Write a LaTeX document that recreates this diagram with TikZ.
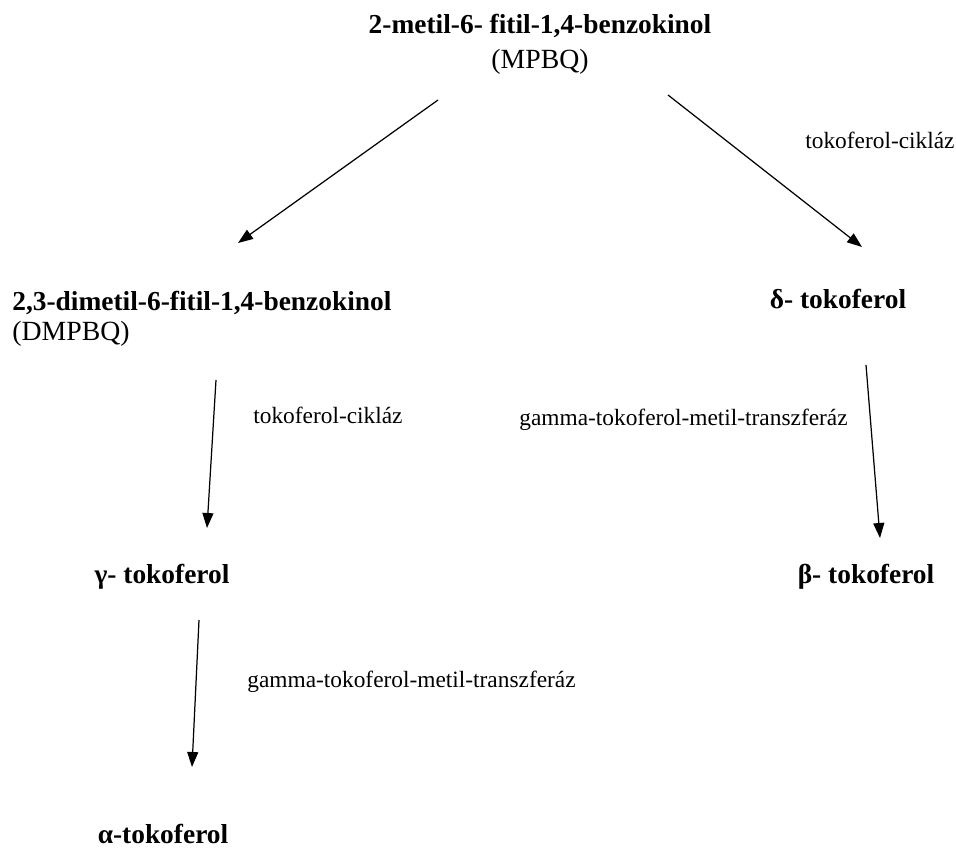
\documentclass[tikz,border=0pt]{standalone}
\usepackage{fontspec}
\setmainfont{Liberation Serif}
\usetikzlibrary{arrows.meta, positioning}

\tikzset{
  compound/.style={font=\fontsize{15.6}{18}\selectfont\bfseries, inner sep=0pt},
  abbrev/.style={font=\fontsize{15.8}{18}\selectfont, inner sep=0pt},
  enzyme/.style={font=\fontsize{13.3}{16}\selectfont, inner sep=0pt},
  pathway/.style={-{Triangle[length=0.3cm, width=0.22cm]}, line width=0.7pt},
}

\begin{document}
\begin{tikzpicture}[x=0.02cm, y=-0.02cm]
  \useasboundingbox (0,0) rectangle (956,848);

  % Compounds
  \node[compound, anchor=base] (mpbq) at (540,34) {2-metil-6- fitil-1,4-benzokinol};
  \node[abbrev, anchor=base] (mpbqab) at (540,69) {(MPBQ)};
  \node[compound, anchor=base west] (dmpbq) at (12,310) {2,3-dimetil-6-fitil-1,4-benzokinol};
  \node[abbrev, anchor=base west] (dmpbqab) at (12,340) {(DMPBQ)};
  \node[compound, anchor=base] (delta) at (838,308) {δ- tokoferol};
  \node[compound, anchor=base] (gamma) at (162,583) {γ- tokoferol};
  \node[compound, anchor=base] (beta) at (866,583) {β- tokoferol};
  \node[compound, anchor=base] (alpha) at (163,843) {α-tokoferol};

  % Enzymes
  \node[enzyme, anchor=base west] (cyc1) at (805,148) {tokoferol-cikláz};
  \node[enzyme, anchor=base west] (cyc2) at (253,423) {tokoferol-cikláz};
  \node[enzyme, anchor=base west] (gtmt1) at (519,425) {gamma-tokoferol-metil-transzferáz};
  \node[enzyme, anchor=base west] (gtmt2) at (247,687) {gamma-tokoferol-metil-transzferáz};

  % Arrow ends
  \coordinate (mpbqL) at (438,100);
  \coordinate (mpbqR) at (668,95);
  \coordinate (dmpbqT) at (238,243);
  \coordinate (deltaT) at (862,247);
  \coordinate (dmpbqB) at (216,380);
  \coordinate (gammaT) at (207,528);
  \coordinate (deltaB) at (866,365);
  \coordinate (betaT) at (880,538);
  \coordinate (gammaB) at (199,620);
  \coordinate (alphaT) at (192,767);

  \draw[pathway] (mpbqL) -- (dmpbqT);
  \draw[pathway] (mpbqR) -- (deltaT);
  \draw[pathway] (dmpbqB) -- (gammaT);
  \draw[pathway] (deltaB) -- (betaT);
  \draw[pathway] (gammaB) -- (alphaT);
\end{tikzpicture}
\end{document}
